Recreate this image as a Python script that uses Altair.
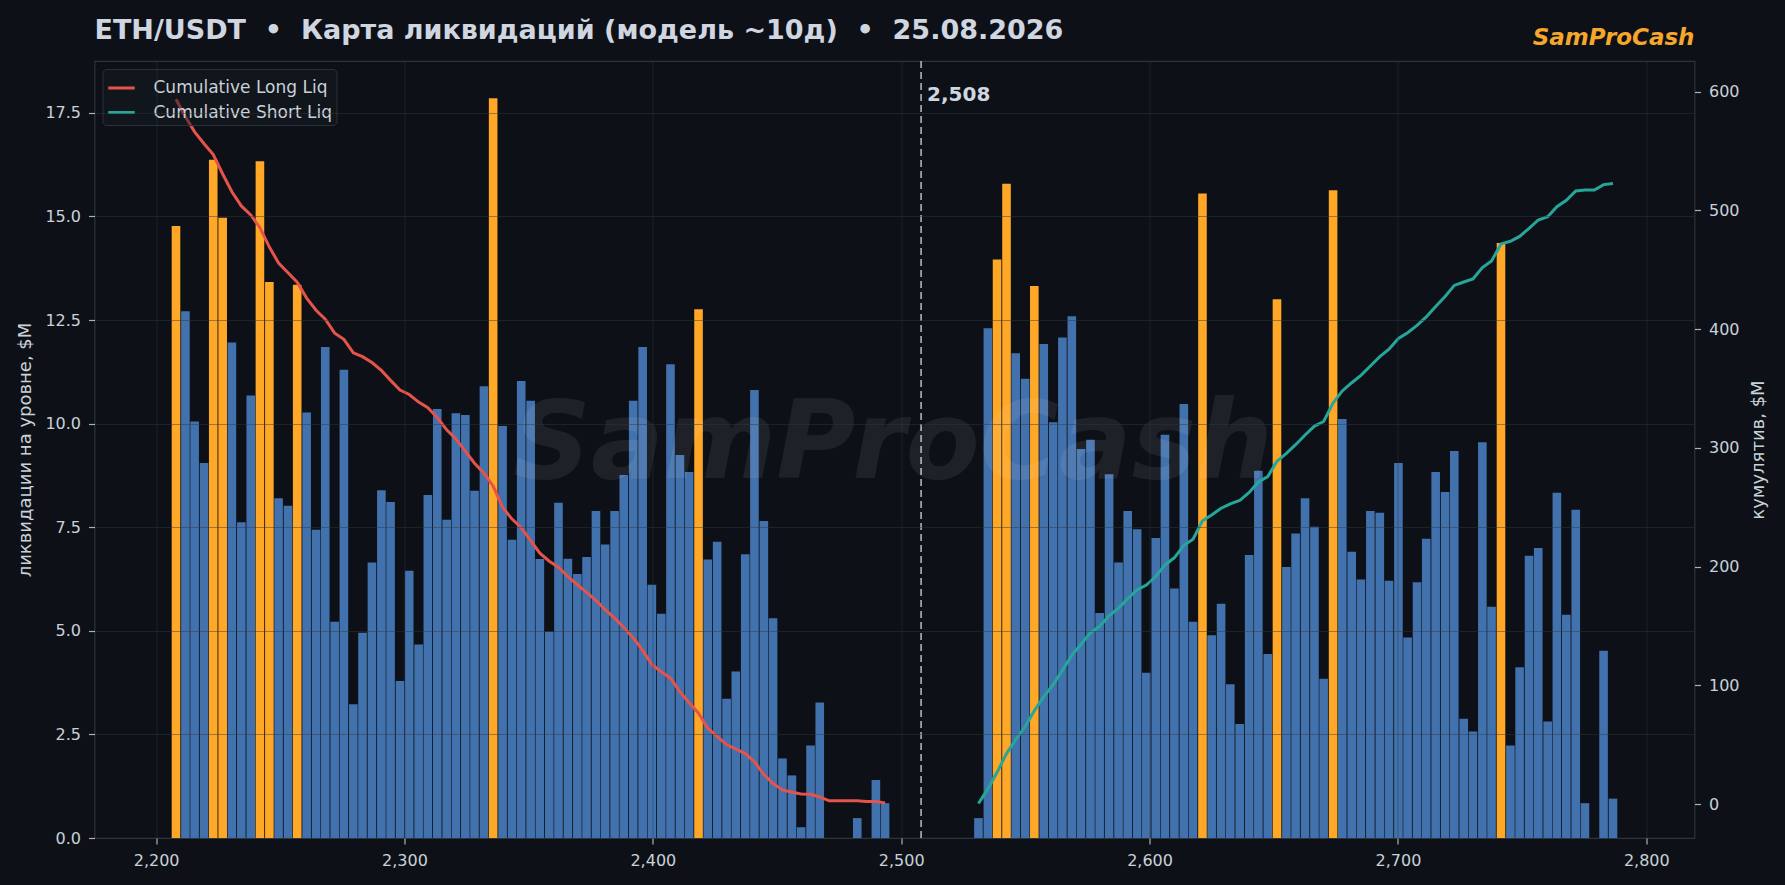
import altair as alt
import pandas as pd

# ---------------- data ----------------
CURRENT_PRICE = 2508

LONG_PRICE = [
    2208.0, 2211.8, 2215.5, 2219.3, 2223.0, 2226.8, 2230.5, 2234.3, 2238.1, 2241.8,
    2245.6, 2249.3, 2253.1, 2256.8, 2260.6, 2264.4, 2268.1, 2271.9, 2275.6, 2279.4,
    2283.1, 2286.9, 2290.7, 2294.4, 2298.2, 2301.9, 2305.7, 2309.4, 2313.2, 2317.0,
    2320.7, 2324.5, 2328.2, 2332.0, 2335.7, 2339.5, 2343.3, 2347.0, 2350.8, 2354.5,
    2358.3, 2362.0, 2365.8, 2369.6, 2373.3, 2377.1, 2380.8, 2384.6, 2388.3, 2392.1,
    2395.9, 2399.6, 2403.4, 2407.1, 2410.9, 2414.6, 2418.4, 2422.1, 2425.9, 2429.7,
    2433.4, 2437.2, 2440.9, 2444.7, 2448.4, 2452.2, 2456.0, 2459.7, 2463.5, 2467.2,
    2471.0, 2474.7, 2478.5, 2482.3, 2486.0, 2489.8, 2493.5,
]
LONG_LIQ = [
    14.77, 12.71, 10.05, 9.05, 16.37, 14.97, 11.96, 7.62, 10.68, 16.33,
    13.42, 8.20, 8.02, 13.35, 10.27, 7.44, 11.85, 5.22, 11.30, 3.23,
    4.95, 6.65, 8.39, 8.11, 3.79, 6.45, 4.67, 8.28, 10.35, 7.68,
    10.25, 10.21, 8.38, 10.90, 17.85, 9.94, 7.20, 11.03, 10.55, 6.73,
    4.98, 8.09, 6.74, 6.37, 6.78, 7.89, 7.08, 7.89, 8.76, 10.55,
    11.85, 6.11, 5.41, 11.43, 9.24, 8.83, 12.76, 6.72, 7.15, 3.36,
    4.02, 6.85, 10.81, 7.65, 5.30, 1.92, 1.51, 0.26, 2.23, 3.27,
    0.0, 0.0, 0.0, 0.48, 0.0, 1.40, 0.84,
]
SHORT_PRICE = [
    2531.1, 2534.9, 2538.6, 2542.4, 2546.1, 2549.9, 2553.6, 2557.4, 2561.2, 2564.9,
    2568.7, 2572.4, 2576.2, 2579.9, 2583.7, 2587.5, 2591.2, 2595.0, 2598.7, 2602.5,
    2606.2, 2610.0, 2613.8, 2617.5, 2621.3, 2625.0, 2628.8, 2632.5, 2636.3, 2640.1,
    2643.8, 2647.6, 2651.3, 2655.1, 2658.8, 2662.6, 2666.4, 2670.1, 2673.9, 2677.6,
    2681.4, 2685.1, 2688.9, 2692.7, 2696.4, 2700.2, 2703.9, 2707.7, 2711.4, 2715.2,
    2719.0, 2722.7, 2726.5, 2730.2, 2734.0, 2737.7, 2741.5, 2745.3, 2749.0, 2752.8,
    2756.5, 2760.3, 2764.0, 2767.8, 2771.6, 2775.3, 2779.1, 2782.8, 2786.6,
]
SHORT_LIQ = [
    0.48, 12.30, 13.96, 15.79, 11.70, 11.08, 13.32, 11.92, 10.03, 12.08,
    12.59, 9.39, 9.61, 5.43, 8.78, 6.65, 7.89, 7.45, 3.99, 7.24,
    9.73, 6.02, 10.47, 5.22, 15.55, 4.89, 5.65, 3.71, 2.75, 6.83,
    8.86, 4.44, 13.00, 6.54, 7.35, 8.20, 7.51, 3.84, 15.63, 10.11,
    6.91, 6.24, 7.89, 7.85, 6.21, 9.05, 4.84, 6.17, 7.22, 8.83,
    8.35, 9.34, 2.88, 2.57, 9.55, 5.58, 14.36, 2.23, 4.12, 6.81,
    7.00, 2.81, 8.33, 5.39, 7.92, 0.84, 0.0, 4.52, 0.95,
]
KEY_LEVELS = [
    2208.0, 2223.0, 2226.8, 2241.8, 2245.6, 2256.8, 2335.7, 2418.4,
    2538.6, 2542.4, 2553.6, 2621.3, 2651.3, 2673.9, 2741.5,
]
SERIES_NAMES = ["Cumulative Long Liq", "Cumulative Short Liq"]
X_TICKS = [2200, 2300, 2400, 2500, 2600, 2700, 2800]
Y_LEFT_TICKS = [0, 2.5, 5, 7.5, 10, 12.5, 15, 17.5]
Y_RIGHT_TICKS = [0, 100, 200, 300, 400, 500, 600]

# non-breaking spaces keep the double spacing around the bullets
TITLE = "ETH/USDT \u00a0•\u00a0 Карта ликвидаций (модель ~10д) \u00a0•\u00a0 25.08.2026"
BRAND = "SamProCash"

# ---------------- style ----------------
BG = "#0d1117"
TXT = "#c9d1d9"
BLUE = "#4272ad"
ORANGE = "#ffa726"
RED = "#e5534b"
TEAL = "#26a69a"
FONT = "DejaVu Sans"

bars_df = pd.DataFrame({
    "price": LONG_PRICE + SHORT_PRICE,
    "liq": LONG_LIQ + SHORT_LIQ,
    "side": ["long"] * len(LONG_PRICE) + ["short"] * len(SHORT_PRICE),
})
bars_df["key"] = bars_df["price"].isin(KEY_LEVELS)

x_scale = alt.Scale(domain=[2177.2, 2817.4], nice=False, zero=False)
x_axis = alt.Axis(values=X_TICKS, format=",d", title=None, grid=True, zindex=1)

bars = alt.Chart(bars_df).mark_bar(size=8.6, orient="vertical").encode(
    x=alt.X("price:Q", scale=x_scale, axis=x_axis),
    y=alt.Y(
        "liq:Q",
        scale=alt.Scale(domain=[0, 18.75], nice=False),
        axis=alt.Axis(
            values=Y_LEFT_TICKS, format=".1f", orient="left", grid=True, zindex=1,
            title="ликвидации на уровне, $M", titleAngle=270, titleBaseline="bottom",
            titlePadding=10,
        ),
    ),
    color=alt.condition("datum.key", alt.value(ORANGE), alt.value(BLUE)),
)

rule = alt.Chart(pd.DataFrame({"price": [CURRENT_PRICE]})).mark_rule(
    color="#b8bec8", strokeWidth=1.5, strokeDash=[7, 4]
).encode(x=alt.X("price:Q", scale=x_scale))

price_label = alt.Chart(pd.DataFrame({"price": [CURRENT_PRICE]})).mark_text(
    align="left", baseline="alphabetic", dx=6, fontSize=20, fontWeight="bold",
    font=FONT, color="#d0d6e0",
).encode(
    x=alt.X("price:Q", scale=x_scale),
    y=alt.value(40),
    text=alt.Text("price:Q", format=",d"),
)

watermark = alt.Chart(pd.DataFrame({"t": [BRAND]})).mark_text(
    align="center", baseline="alphabetic", fontSize=108, fontWeight="bold",
    fontStyle="italic", font=FONT, color="#ffffff", opacity=0.07,
).encode(x=alt.value(798.5), y=alt.value(417), text="t:N")

brand = alt.Chart(pd.DataFrame({"t": [BRAND]})).mark_text(
    align="right", baseline="alphabetic", fontSize=23, fontWeight="bold",
    fontStyle="italic", font=FONT, color="#f6a62a",
).encode(x=alt.value(1600), y=alt.value(-16), text="t:N")

lines = alt.Chart(bars_df).transform_calculate(
    order_key="datum.side == 'long' ? -datum.price : datum.price",
    series=f"datum.side == 'long' ? '{SERIES_NAMES[0]}' : '{SERIES_NAMES[1]}'",
).transform_window(
    cum="sum(liq)", groupby=["side"], sort=[alt.SortField("order_key", order="ascending")]
).mark_line(strokeWidth=3).encode(
    x=alt.X("price:Q", scale=x_scale),
    y=alt.Y(
        "cum:Q",
        scale=alt.Scale(domain=[-28.6, 625.9], nice=False, zero=False),
        axis=alt.Axis(
            values=Y_RIGHT_TICKS, format="d", orient="right", grid=False,
            title="кумулятив, $M", titleAngle=270, titleBaseline="top", titlePadding=10,
        ),
    ),
    color=alt.Color(
        "series:N",
        scale=alt.Scale(domain=SERIES_NAMES, range=[RED, TEAL]),
        legend=alt.Legend(
            title=None, orient="top-left", offset=8, fillColor="rgba(22,27,34,0.5)",
            strokeColor="#2b313c", cornerRadius=4, padding=4,
            symbolType="stroke", symbolStrokeWidth=3, symbolSize=700,
            labelFont=FONT, labelFontSize=17, labelColor=TXT, labelOffset=17,
            rowPadding=1.5, labelLimit=400,
        ),
    ),
)

left_group = alt.layer(bars, rule, price_label, watermark, brand)

chart = alt.layer(left_group, lines).resolve_scale(y="independent").properties(
    width=1600,
    height=777,
    autosize=alt.AutoSizeParams(type="none"),
    padding={"left": 86.5, "top": 53, "right": 82, "bottom": 35},
    background=BG,
    title=alt.TitleParams(
        text=TITLE, anchor="start", frame="group", fontSize=27, font=FONT,
        fontWeight="bold", color="#d0d6e0", offset=0, dy=39, baseline="alphabetic",
    ),
).configure_view(
    stroke="#2d333d", strokeWidth=1.2
).configure_axis(
    labelFont=FONT, labelFontSize=16, labelColor=TXT,
    titleFont=FONT, titleFontSize=18, titleFontWeight="normal", titleColor=TXT,
    tickColor="#aab2bd", tickSize=6, tickWidth=1.2, labelPadding=8,
    domain=False, gridColor="#30363d", gridOpacity=0.45, gridWidth=1,
)

chart.save(
    "out.html",
    embed_options={
        "renderer": "svg",
        "actions": False,
        "defaultStyle": "body { background: #0d1117; }",
    },
)
